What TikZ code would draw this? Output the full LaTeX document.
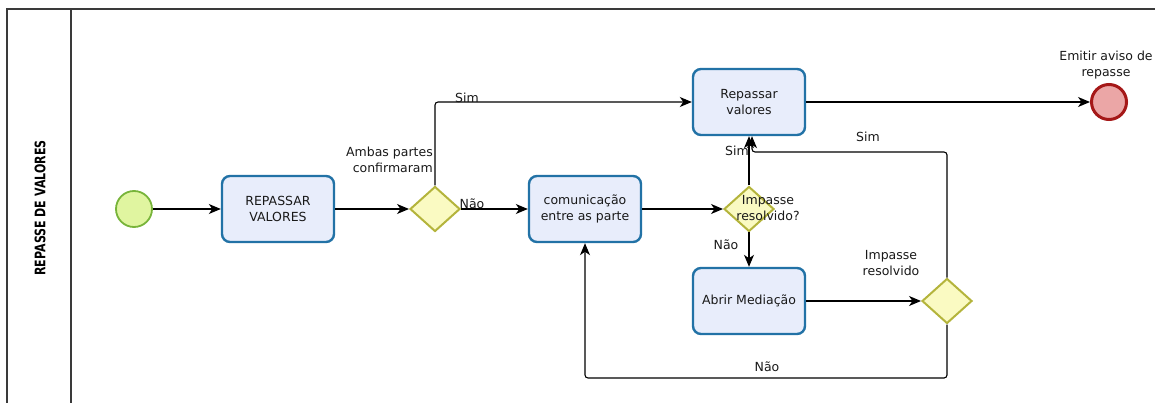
\documentclass[tikz,border=0pt]{standalone}
\usepackage{fontspec}
\setmainfont{DejaVu Sans}
\usepackage{graphicx}
\usetikzlibrary{shapes.geometric, arrows.meta}

\definecolor{taskfill}{HTML}{E8EDFB}
\definecolor{taskline}{HTML}{2272A6}
\definecolor{startfill}{HTML}{E0F5A0}
\definecolor{startline}{HTML}{78B43A}
\definecolor{gatefill}{HTML}{FAFAC2}
\definecolor{gateline}{HTML}{B4B43C}
\definecolor{endfill}{HTML}{EBA6A6}
\definecolor{endline}{HTML}{A51818}
\definecolor{poolline}{HTML}{3A3A3A}

\tikzset{
  task/.style={draw=taskline, line width=2.4pt, fill=taskfill, rounded corners=8pt,
    minimum width=112pt, minimum height=66pt, align=center,
    font=\fontsize{12.5}{16}\selectfont, text=black!90},
  gateway/.style={diamond, draw=gateline, line width=2pt, fill=gatefill,
    minimum width=50pt, minimum height=45pt, inner sep=0pt},
  startev/.style={circle, draw=startline, line width=1.8pt, fill=startfill,
    minimum size=36pt, inner sep=0pt},
  endev/.style={circle, draw=endline, line width=3pt, fill=endfill,
    minimum size=35pt, inner sep=0pt},
  flow/.style={-{Stealth[length=12pt,width=10pt,inset=3.5pt]}, line width=1.1pt},
  lbl/.style={font=\fontsize{12.5}{16}\selectfont, align=center, inner sep=0pt, text=black!90}
}

\begin{document}
\begin{tikzpicture}[x=1pt, y=-1pt]
  \useasboundingbox (0,0) rectangle (1155,403);

  % pool and lane
  \draw[poolline, line width=1.4pt] (1155,9) -- (7,9) -- (7,403);
  \draw[poolline, line width=1.4pt] (71,9) -- (71,403);
  \node[rotate=90, font=\bfseries\fontsize{14.5}{16}\selectfont] (lane) at (40,208)
    {\scalebox{0.76}[1]{REPASSE DE VALORES}};

  % events, tasks and gateways
  \node[startev] (inicio) at (134,209) {};
  \node[task] (repassar) at (278,209) {REPASSAR\\VALORES};
  \node[gateway] (gwambas) at (435,209) {};
  \node[task] (comunic) at (585,209) {comunicação\\entre as parte};
  \node[gateway] (gwimpasse) at (749,209) {};
  \node[task] (repval) at (749,102) {Repassar\\valores};
  \node[task] (mediacao) at (749,301) {Abrir Mediação};
  \node[gateway] (gwmedia) at (947,301) {};
  \node[endev] (fim) at (1109,102) {};

  \coordinate (retsim) at (752,152);
  \coordinate (retnao) at (585,378);

  % flows
  \draw[flow] (inicio) -- (repassar);
  \draw[flow] (repassar) -- (gwambas);
  \draw[flow] (gwambas) -- (comunic);
  \draw[flow, rounded corners=3pt] (gwambas.north) |- (repval.west);
  \draw[flow] (comunic) -- (gwimpasse);
  \draw[flow] (gwimpasse.north) -- (repval.south);
  \draw[flow] (gwimpasse.south) -- (mediacao.north);
  \draw[flow] (mediacao) -- (gwmedia);
  \draw[flow, rounded corners=3pt] (gwmedia.north) |- (retsim) -- (retsim |- repval.south);
  \draw[flow, rounded corners=3pt] (gwmedia.south) |- (retnao) -- (retnao |- comunic.south);
  \draw[flow] (repval) -- (fim);

  % labels
  \node[lbl, align=right, anchor=east] (lblambas) at (433,160) {Ambas partes\\confirmaram};
  \node[lbl] (lblsim1) at (467,98) {Sim};
  \node[lbl] (lblnao1) at (472,204) {Não};
  \node[lbl] (lblimpasse) at (768,208) {Impasse\\resolvido?};
  \node[lbl] (lblsim2) at (737,151) {Sim};
  \node[lbl] (lblnao2) at (726,245) {Não};
  \node[lbl] (lblresolv) at (891,263) {Impasse\\resolvido};
  \node[lbl] (lblsim3) at (868,137) {Sim};
  \node[lbl] (lblnao3) at (767,367) {Não};
  \node[lbl] (lblfim) at (1106,65) {Emitir aviso de\\repasse};
\end{tikzpicture}
\end{document}
